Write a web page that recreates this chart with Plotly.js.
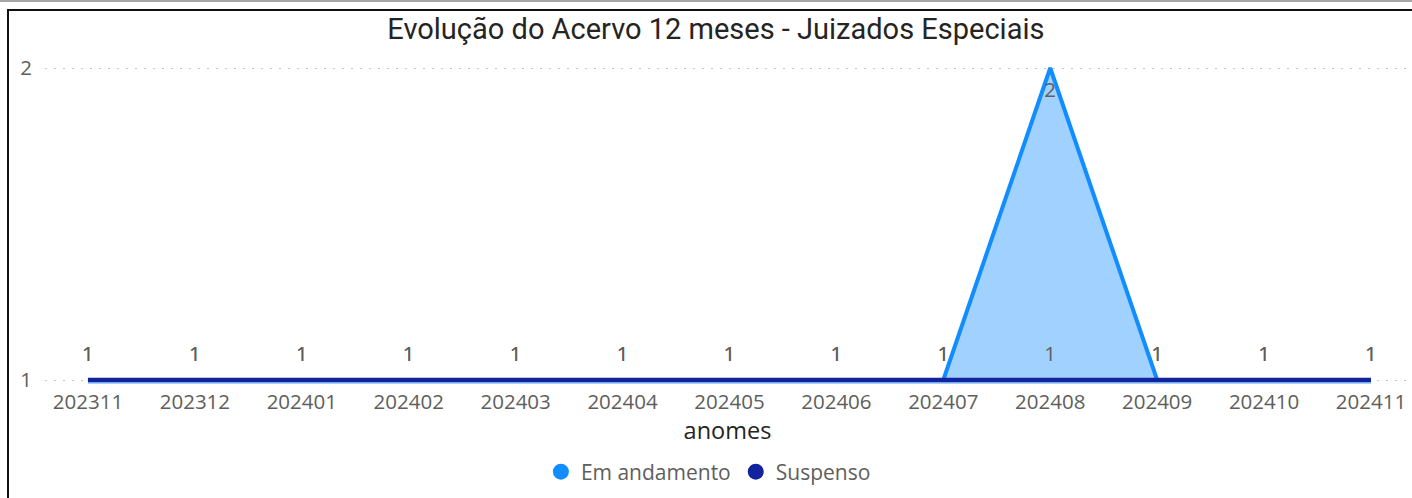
<!DOCTYPE html>
<html>
<head>
<meta charset="utf-8">
<script src="https://cdn.plot.ly/plotly-3.0.1.min.js"></script>
<style>
  html, body { margin: 0; padding: 0; background: #ffffff; }
  #wrap { position: relative; width: 1412px; height: 498px; overflow: hidden; }
  #chart { position: absolute; left: 0; top: 0; width: 1412px; height: 498px; }
  #topline { position: absolute; left: 0; top: 0; width: 1412px; height: 2px; background: #a6a6a6; pointer-events: none; }
  #frame { position: absolute; left: 7px; top: 9px; width: 1420px; height: 500px; border-left: 2px solid #111; border-top: 2px solid #111; pointer-events: none; }
</style>
</head>
<body>
<div id="wrap">
  <div id="chart"></div>
  <div id="topline"></div>
  <div id="frame"></div>
</div>
<script>
const categories = ['202311','202312','202401','202402','202403','202404','202405','202406','202407','202408','202409','202410','202411'];
const emAndamento = [1,1,1,1,1,1,1,1,1,2,1,1,1];
const suspenso = [1,1,1,1,1,1,1,1,1,1,1,1,1];
const yTicks = [1,2];

const labelFont = {family: 'Open Sans, Noto Sans, sans-serif', size: 20.5, color: '#605E5C'};

const emMax = Math.max(...emAndamento);
const emPositions = emAndamento.map(v => (v === emMax && v > 1) ? 'bottom center' : 'top center');

const traces = [
  {
    x: categories, y: emAndamento, name: 'Em andamento', type: 'scatter',
    mode: 'lines+markers+text', text: emAndamento.map(String), textposition: emPositions,
    textfont: labelFont,
    line: {color: '#118DFF', width: 4},
    marker: {size: 20, opacity: 0, color: '#118DFF'},
    fill: 'tozeroy', fillcolor: 'rgba(17,141,255,0.4)',
    showlegend: false, hoverinfo: 'x+y+name', cliponaxis: false
  },
  {
    x: categories, y: suspenso, name: 'Suspenso', type: 'scatter',
    mode: 'lines+markers+text', text: suspenso.map(String), textposition: 'top center',
    textfont: labelFont,
    line: {color: '#12239E', width: 4.5},
    marker: {size: 20, opacity: 0, color: '#12239E'},
    showlegend: false, hoverinfo: 'x+y+name', cliponaxis: false
  },
  {x: [null], y: [null], name: 'Em andamento', type: 'scatter', mode: 'markers',
   marker: {color: '#118DFF', size: 16, symbol: 'circle'}, showlegend: true},
  {x: [null], y: [null], name: 'Suspenso', type: 'scatter', mode: 'markers',
   marker: {color: '#12239E', size: 16, symbol: 'circle'}, showlegend: true}
];

const layout = {
  width: 1412, height: 498,
  paper_bgcolor: '#ffffff', plot_bgcolor: '#ffffff',
  margin: {l: 45, r: 2, t: 60, b: 114},
  title: {
    text: 'Evolução do Acervo 12 meses - Juizados Especiais',
    font: {family: 'Roboto, sans-serif', size: 29, color: '#252423'},
    x: 0.507, xref: 'container', xanchor: 'center',
    y: 0.942, yref: 'container', yanchor: 'middle'
  },
  xaxis: {
    type: 'category', range: [-0.402, 12.365],
    showgrid: false, zeroline: false, showline: false, ticks: '',
    tickfont: labelFont, ticklabelstandoff: 3,
    title: {text: 'anomes', font: {family: 'Open Sans, sans-serif', size: 23.5, color: '#252423'}, standoff: 8}
  },
  yaxis: {
    range: [0.98718, 2.02564], tickvals: yTicks, ticktext: yTicks.map(String),
    showgrid: true, gridcolor: '#C8C6C4', gridwidth: 1, griddash: '2px,7px',
    zeroline: false, showline: false, ticks: '',
    tickfont: labelFont, ticklabelstandoff: 12
  },
  legend: {
    orientation: 'h', x: 0.486, xanchor: 'center', y: -0.2716, yanchor: 'middle',
    font: {family: 'Open Sans, sans-serif', size: 21, color: '#605E5C'},
    itemwidth: 30, tracegroupgap: 0
  },
  showlegend: true
};

Plotly.newPlot('chart', traces, layout, {displayModeBar: false, staticPlot: true});
</script>
</body>
</html>
